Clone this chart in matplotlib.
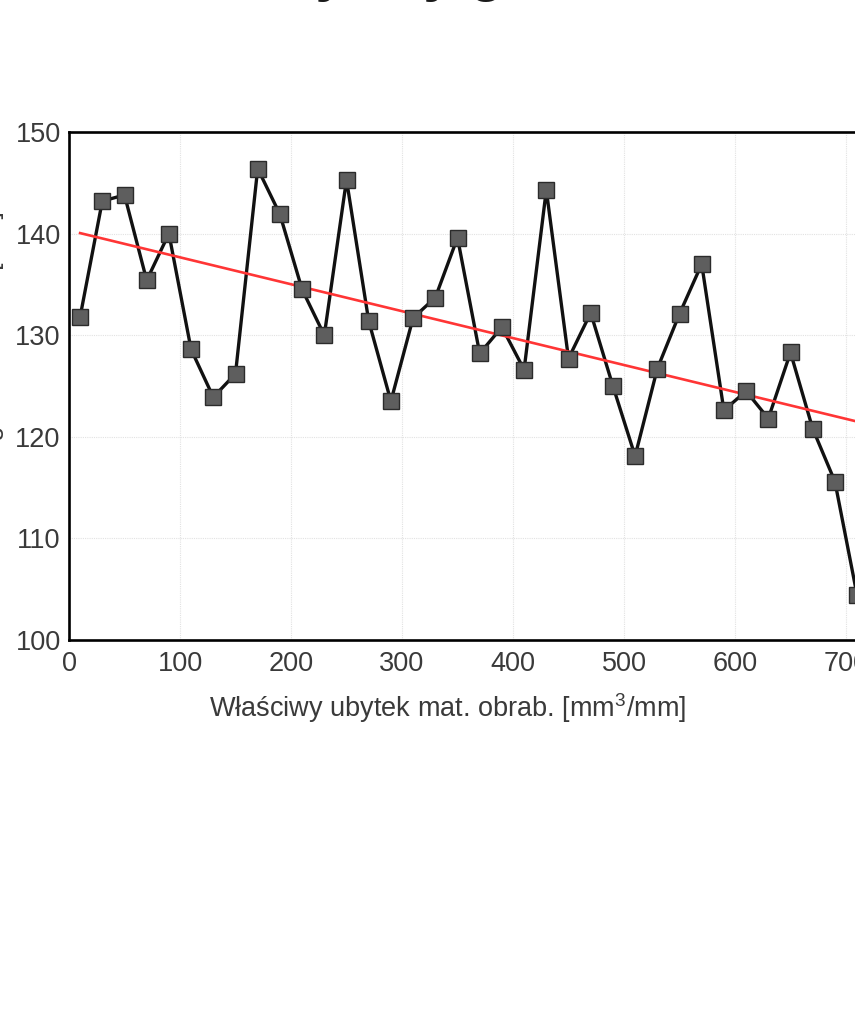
"""Specific material removal vs. measured value, with linear trend."""

import matplotlib
matplotlib.use("Agg")
import matplotlib.pyplot as plt
import numpy as np

plt.rcParams.update({
    "font.family": ["Liberation Sans", "DejaVu Sans"],
    "mathtext.fontset": "custom",
    "mathtext.rm": "Liberation Sans",
    "mathtext.it": "Liberation Sans:italic",
})

# measurement points (every 20 mm3/mm)
removal = [10, 30, 50, 70, 90, 110, 130, 150, 170, 190, 210, 230,
           250, 270, 290, 310, 330, 350, 370, 390, 410, 430, 450, 470,
           490, 510, 530, 550, 570, 590, 610, 630, 650, 670, 690, 710]
value = [131.8, 143.2, 143.8, 135.4, 140.0, 128.6, 123.9, 126.2, 146.4,
         141.9, 134.5, 130.0, 145.3, 131.4, 123.5, 131.7, 133.7, 139.6,
         128.2, 130.8, 126.6, 144.3, 127.7, 132.2, 125.0, 118.1, 126.7,
         132.1, 137.0, 122.6, 124.5, 121.8, 128.3, 120.8, 115.6, 104.4]

# linear trend end points
trend_x = [10, 710]
trend_y = [140.05, 121.5]

x_ticks = [0, 100, 200, 300, 400, 500, 600, 700]
y_ticks = [100, 110, 120, 130, 140, 150]

W, H = 855, 1025
fig = plt.figure(figsize=(W / 100, H / 100), dpi=100)
ax = fig.add_axes([69 / W, 385 / H, 888 / W, 508 / H])

ax.plot(removal, value, color="#111111", lw=2.4, zorder=2)
ax.plot(trend_x, trend_y, color="#ff3535", lw=1.9, zorder=3)
ax.plot(removal, value, ls="none", marker="s", ms=11.3,
        mfc="#5e5e5e", mec="#2b2b2b", mew=1.0, zorder=4, clip_on=False)

ax.set_xlim(0, 800)
ax.set_ylim(100, 150)
ax.set_xticks(x_ticks)
ax.set_yticks(y_ticks)
ax.grid(True, color="#e2e2e2", lw=0.8, ls=(0, (1, 1)))
ax.set_axisbelow(True)
ax.tick_params(length=0, labelsize=19.5, labelcolor="#3a3a3a")
ax.tick_params(axis="x", pad=8)
ax.tick_params(axis="y", pad=6)
for s in ax.spines.values():
    s.set_linewidth(1.9)
    s.set_color("black")

ax.set_xlabel("Właściwy ubytek mat. obrab. [mm$^{3}$/mm]",
              fontsize=19.5, color="#3a3a3a")
ax.xaxis.set_label_coords((448 - 69) / 888, -0.1)

# axis title on the left, mostly outside the canvas
fig.text(4 / W, 1 - 211 / H, "Długość kontaktu [mm]", rotation=90,
         ha="right", va="top", fontsize=19, color="#3a3a3a")

# figure title, above the canvas
fig.text(152 / W, 1 + 9.5 / H, "Zmiany siły gładzenia, Ft",
         ha="left", va="baseline", fontsize=40, fontweight="bold",
         color="#1a1a1a")

fig.savefig("out.png", dpi=100)
